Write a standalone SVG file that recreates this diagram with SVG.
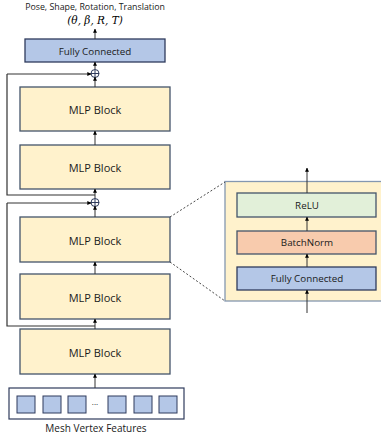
<svg xmlns="http://www.w3.org/2000/svg" width="381" height="438" viewBox="0 0 381 438">
<defs>
<marker id="ah" viewBox="0 0 6 6" refX="5.5" refY="3" markerWidth="4" markerHeight="4" orient="auto" markerUnits="userSpaceOnUse">
<path d="M0,0 L6,3 L0,6 z" fill="#000"/>
</marker>
<style>
.mlp{fill:#FFF2CC;stroke:#44546A;stroke-width:1.3}
.fc{fill:#B4C7E7;stroke:#2F3B5C;stroke-width:1.3}
.relu{fill:#E2F0D9;stroke:#44546A;stroke-width:1.3}
.bn{fill:#F8CBAD;stroke:#44546A;stroke-width:1.3}
.lbl{font-family:"Open Sans","Liberation Sans",sans-serif;font-size:11px;fill:#1a1a1a;text-anchor:middle;dominant-baseline:central}
.sm{font-family:"Open Sans","Liberation Sans",sans-serif;font-size:9.8px;fill:#1a1a1a;text-anchor:middle;dominant-baseline:central}
.ln{fill:none;stroke:#333;stroke-width:1.2}
.ar{fill:none;stroke:#333;stroke-width:1;marker-end:url(#ah)}
.dash{fill:none;stroke:#333;stroke-width:0.9;stroke-dasharray:2,2}
.sq{fill:#B4C7E7;stroke:#2F3B5C;stroke-width:1}
</style>
</defs>
<g id="title">
<text class="sm" x="95" y="7" style="font-size:8.8px">Pose, Shape, Rotation, Translation</text>
<text x="95" y="20" style="font-family:'DejaVu Serif','Liberation Serif',serif;font-style:italic;font-size:10.5px;text-anchor:middle;dominant-baseline:central">(θ, β, R, T)</text>
</g>
<g id="fc-top">
<rect class="fc" x="25" y="39" width="140" height="23"/>
<text class="sm" x="95" y="51">Fully Connected</text>
</g>
<g id="add1">
<circle cx="95" cy="73.5" r="4" fill="none" stroke="#2F3B5C" stroke-width="1"/>
<path d="M91,73.5 H99 M95,69.5 V77.5" stroke="#2F3B5C" stroke-width="1"/>
</g>
<g id="mlp1">
<rect class="mlp" x="20" y="87" width="150" height="44"/>
<text class="lbl" x="95" y="109">MLP Block</text>
</g>
<g id="mlp2">
<rect class="mlp" x="20" y="145" width="150" height="44"/>
<text class="lbl" x="95" y="167">MLP Block</text>
</g>
<g id="add2">
<circle cx="95" cy="202.5" r="4" fill="none" stroke="#2F3B5C" stroke-width="1"/>
<path d="M91,202.5 H99 M95,198.5 V206.5" stroke="#2F3B5C" stroke-width="1"/>
</g>
<g id="mlp3">
<rect class="mlp" x="20" y="217" width="150" height="45"/>
<text class="lbl" x="95" y="240">MLP Block</text>
</g>
<g id="mlp4">
<rect class="mlp" x="20" y="274" width="150" height="45"/>
<text class="lbl" x="95" y="297">MLP Block</text>
</g>
<g id="mlp5">
<rect class="mlp" x="20" y="329" width="150" height="45"/>
<text class="lbl" x="95" y="352">MLP Block</text>
</g>
<g id="features">
<rect x="9" y="388" width="175" height="31" fill="#fff" stroke="#2F3B5C" stroke-width="1.2"/>
<rect class="sq" x="17" y="396" width="18" height="17"/>
<rect class="sq" x="43" y="396" width="18" height="17"/>
<rect class="sq" x="68" y="396" width="18" height="17"/>
<text class="sm" x="95" y="401" style="font-size:8px">...</text>
<rect class="sq" x="108" y="396" width="18" height="17"/>
<rect class="sq" x="134" y="396" width="18" height="17"/>
<rect class="sq" x="159" y="396" width="18" height="17"/>
<text class="sm" x="96" y="428" style="font-size:10px">Mesh Vertex Features</text>
</g>
<g id="detail">
<rect x="225" y="181.5" width="160" height="119.5" fill="#FFF2CC" stroke="#8497B0" stroke-width="1.3"/>
</g>
<g id="relu">
<rect class="relu" x="237" y="193" width="139" height="24"/>
<text class="sm" x="307" y="205">ReLU</text>
</g>
<g id="batchnorm">
<rect class="bn" x="237" y="231" width="139" height="23"/>
<text class="sm" x="307" y="242.5">BatchNorm</text>
</g>
<g id="fc-detail">
<rect class="fc" x="237" y="267" width="139" height="23"/>
<text class="sm" x="307" y="278.5">Fully Connected</text>
</g>
<g id="connectors">
<path class="ar" d="M95,39 V29"/>
<path class="ar" d="M95,69 V62"/>
<path class="ar" d="M95,87 V77"/>
<path class="ar" d="M95,145 V131"/>
<path class="ar" d="M95,198 V189"/>
<path class="ar" d="M95,217 V206"/>
<path class="ar" d="M95,274 V262"/>
<path class="ar" d="M95,329 V319"/>
<path class="ar" d="M95,388 V374"/>
<path class="ln" d="M95,195 H7 V74"/>
<path class="ar" d="M7,74 H91"/>
<path class="ln" d="M95,326 H7 V203"/>
<path class="ar" d="M7,203 H91"/>
<path class="dash" d="M170,217 L225,182"/>
<path class="dash" d="M170,262 L225,301"/>
<path class="ar" d="M307,313 V290"/>
<path class="ar" d="M307,267 V254"/>
<path class="ar" d="M307,231 V217"/>
<path class="ar" d="M307,193 V168"/>
</g>
</svg>
